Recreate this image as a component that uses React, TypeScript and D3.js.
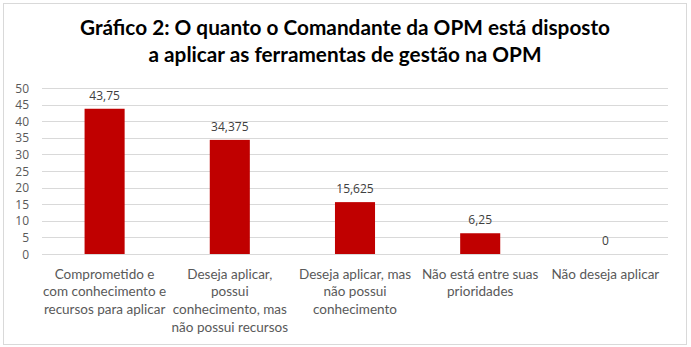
import React from "react";
import * as d3 from "d3";

const categories = [
  "Comprometido e com conhecimento e recursos para aplicar",
  "Deseja aplicar, possui conhecimento, mas não possui recursos",
  "Deseja aplicar, mas não possui conhecimento",
  "Não está entre suas prioridades",
  "Não deseja aplicar",
];
const categoryLines = [
  ["Comprometido e", "com conhecimento e", "recursos para aplicar"],
  ["Deseja aplicar,", "possui", "conhecimento, mas", "não possui recursos"],
  ["Deseja aplicar, mas", "não possui", "conhecimento"],
  ["Não está entre suas", "prioridades"],
  ["Não deseja aplicar"],
];
const values = [43.75, 34.375, 15.625, 6.25, 0];
const valueLabels = ["43,75", "34,375", "15,625", "6,25", "0"];
const yTicks = [0, 5, 10, 15, 20, 25, 30, 35, 40, 45, 50];
const titleLines = [
  "Gráfico 2: O quanto o Comandante da OPM está disposto",
  "a aplicar as ferramentas de gestão na OPM",
];

const W = 691;
const H = 347;
const FONT = "Lato, 'Open Sans', sans-serif";

export default function App() {
  const x = d3.scaleBand<string>().domain(categories).range([42, 668]).padding(0);
  const y = d3.scaleLinear().domain([0, 50]).range([254, 88]);
  const barW = x.bandwidth() * 0.32;

  return (
    <svg
      width={W}
      height={H}
      style={{ position: "absolute", left: 0, top: 0, background: "#fff" }}
    >
      <rect x={3.5} y={3.5} width={683} height={341} fill="#fff" stroke="#d9d9d9" strokeWidth={1} />
      {titleLines.map((t, i) => (
        <text
          key={i}
          x={345}
          y={35 + i * 27}
          textAnchor="middle"
          fontFamily={FONT}
          fontWeight="bold"
          fontSize={20}
          fill="#000"
          textLength={i === 0 ? 530 : 393}
          lengthAdjust="spacingAndGlyphs"
        >
          {t}
        </text>
      ))}
      {yTicks.map((t) => (
        <g key={t}>
          <line x1={42} x2={668} y1={Math.round(y(t)) + 0.5} y2={Math.round(y(t)) + 0.5} stroke="#d9d9d9" strokeWidth={1} />
          <text
            x={29}
            y={y(t) + 4.5}
            textAnchor="end"
            fontFamily="'Open Sans', sans-serif"
            fontSize={12}
            fill="#595959"
          >
            {t}
          </text>
        </g>
      ))}
      {categories.map((c, i) => {
        const cx = (x(c) as number) + x.bandwidth() / 2;
        return (
          <g key={c}>
            <rect x={cx - barW / 2} y={y(values[i])} width={barW} height={y(0) - y(values[i])} fill="#c00000" />
            <text
              x={cx}
              y={y(values[i]) - 9}
              textAnchor="middle"
              fontFamily="'Open Sans', sans-serif"
              fontSize={12}
              fill="#404040"
            >
              {valueLabels[i]}
            </text>
            {categoryLines[i].map((l, j) => (
              <text
                key={j}
                x={cx}
                y={278.5 + j * 17.7}
                textAnchor="middle"
                fontFamily={FONT}
                fontSize={13.5}
                fill="#595959"
              >
                {l}
              </text>
            ))}
          </g>
        );
      })}
    </svg>
  );
}
